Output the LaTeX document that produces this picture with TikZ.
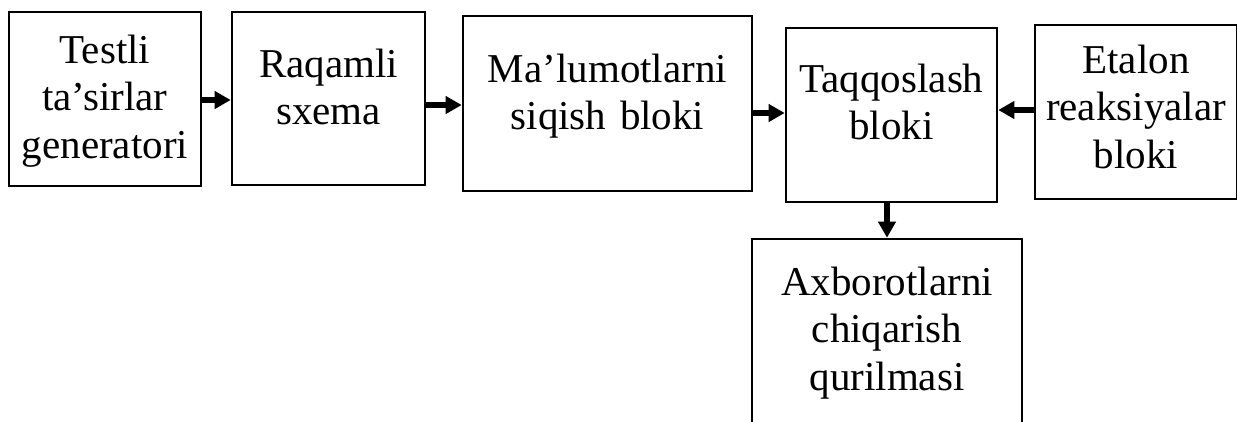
\documentclass[tikz,border=0pt]{standalone}
\usepackage{fontspec}
\setmainfont{Liberation Serif}
\usetikzlibrary{arrows.meta}
\tikzset{
  blk/.style={draw=black, line width=1.6pt, inner sep=0pt, anchor=center},
  txt/.style={inner sep=0pt, align=center, text width=320pt, anchor=base,
    font=\fontsize{41}{47.5}\selectfont},
  arr/.style={line width=6pt, -{Triangle[length=16pt,width=17pt]}, shorten >=0.5pt}
}
\begin{document}
\begin{tikzpicture}[x=1pt,y=-1pt]
\useasboundingbox (0,0) rectangle (1237,421);
\node[blk, minimum width=192pt, minimum height=174pt] (b1) at (105,99) {};
\node[blk, minimum width=193pt, minimum height=173pt] (b2) at (328.5,98.5) {};
\node[blk, minimum width=289pt, minimum height=175pt] (b3) at (607.5,103.5) {};
\node[blk, minimum width=211pt, minimum height=174pt] (b4) at (891.5,115) {};
\node[blk, minimum width=202pt, minimum height=174pt] (b5) at (1136,112) {};
\node[blk, minimum width=270pt, minimum height=210pt] (b6) at (887,344) {};
\node[txt] (t1) at (105,63) {Testli\\ta’sirlar\\generatori};
\node[txt] (t2) at (328.5,77) {Raqamli\\sxema};
\node[txt] (t3) at (607.5,82) {Ma’lumotlarni\\siqish bloki};
\node[txt] (t4) at (891.5,92) {Taqqoslash\\bloki};
\node[txt] (t5) at (1136,73) {Etalon\\reaksiyalar\\bloki};
\node[txt] (t6) at (887,295) {Axborotlarni\\chiqarish\\qurilmasi};
\draw[arr] ([yshift=-1pt]b1.east) -- ([yshift=-1pt]b1.east -| b2.west);
\draw[arr] ([yshift=-6.5pt]b2.east) -- ([yshift=-6.5pt]b2.east -| b3.west);
\draw[arr] ([yshift=-9.5pt]b3.east) -- ([yshift=-9.5pt]b3.east -| b4.west);
\draw[arr] ([yshift=2pt]b5.west) -- ([yshift=2pt]b5.west -| b4.east);
\draw[arr] (b4.south -| b6.north) -- (b6.north);
\end{tikzpicture}
\end{document}
